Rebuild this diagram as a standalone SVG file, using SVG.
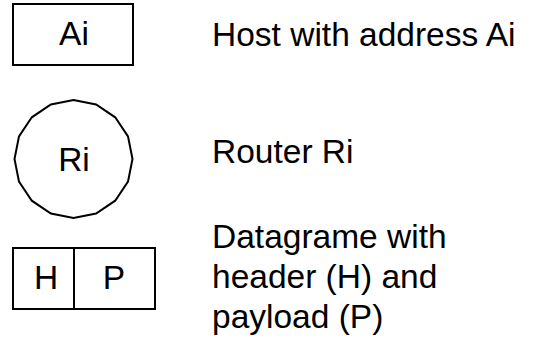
<svg xmlns="http://www.w3.org/2000/svg" width="540" height="344" viewBox="0 0 540 344">
<style>
.s{fill:#fff;stroke:#000;stroke-width:2}
.l{stroke:#000;stroke-width:2}
text{font-family:"Liberation Sans",Arial,sans-serif;font-size:33.5px;fill:#000}
.c{text-anchor:middle}
</style>
<rect width="540" height="344" fill="#fff"/>
<g id="host">
<rect class="s" x="13" y="4" width="120" height="61"/>
<text class="c" x="74" y="45">Ai</text>
</g>
<g id="router">
<polygon class="s" points="73.5,100 96.1,104.5 115.2,117.3 128,136.4 132.5,159 128,181.6 115.2,200.7 96.1,213.5 73.5,218 50.9,213.5 31.8,200.7 19,181.6 14.5,159 19,136.4 31.8,117.3 50.9,104.5"/>
<text class="c" x="74" y="171">Ri</text>
</g>
<g id="datagram">
<rect class="s" x="13" y="248" width="142" height="61"/>
<line class="l" x1="74" y1="248" x2="74" y2="309"/>
<text class="c" x="46" y="289">H</text>
<text class="c" x="114" y="289">P</text>
</g>
<g id="legend">
<text x="212" y="46">Host with address Ai</text>
<text x="212" y="163">Router Ri</text>
<text x="212" y="248">Datagrame with</text>
<text x="212" y="288">header (H) and</text>
<text x="212" y="328">payload (P)</text>
</g>
<g id="connectors"/>
</svg>
